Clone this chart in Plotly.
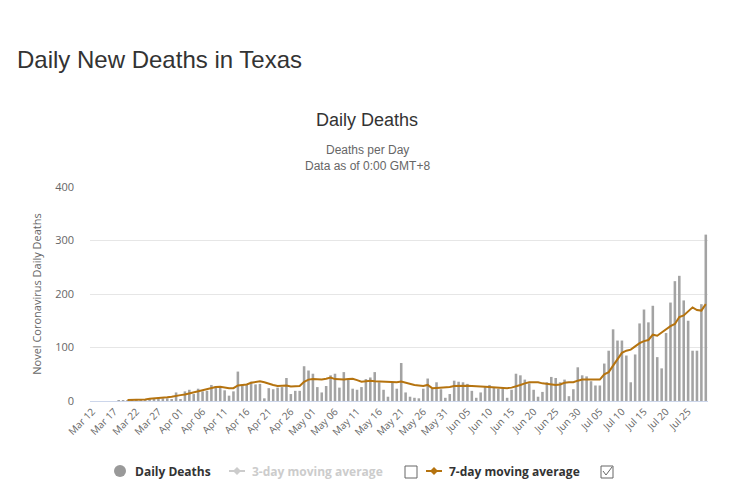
import pandas as pd
import plotly.graph_objects as go

# ---- data ----
start_date = "2020-03-12"
daily_deaths = [
    0, 0, 0, 0, 0, 0, 1, 1, 1, 1,
    1, 2, 2, 2, 3, 5, 5, 5, 2, 16,
    3, 18, 21, 13, 23, 18, 19, 30, 28, 27,
    20, 10, 18, 55, 30, 30, 36, 31, 32, 5,
    24, 22, 25, 26, 43, 13, 19, 19, 65, 57,
    51, 26, 16, 28, 48, 51, 25, 54, 40, 23,
    21, 26, 41, 44, 54, 35, 21, 8, 35, 23,
    71, 16, 8, 6, 5, 23, 42, 23, 35, 22,
    6, 13, 38, 36, 35, 32, 19, 6, 16, 26,
    30, 26, 23, 24, 6, 21, 51, 48, 40, 33,
    21, 8, 17, 35, 45, 43, 35, 40, 9, 22,
    63, 48, 46, 37, 29, 29, 70, 94, 134, 113,
    113, 85, 35, 87, 145, 171, 147, 178, 82, 61,
    127, 184, 224, 234, 188, 150, 94, 94, 181, 311,
]
moving_avg_7 = [
    None, None, None, None, None, None, None, None, 2, 2,
    2, 3, 3, 4, 4.5, 5, 6, 7, 8, 10,
    11, 12, 14, 16, 18, 19, 22, 24, 26, 26.5,
    25, 24, 24, 29, 30, 31, 34, 36, 37, 35,
    32, 30, 28, 28, 29, 27, 27, 28, 36, 40,
    41, 40, 40, 41.5, 44, 41, 40, 40, 41, 41.5,
    39, 36, 37, 38, 37, 36.5, 36.5, 36, 35, 35,
    36.5, 34, 32, 30, 29, 28, 30, 24, 24.5, 25,
    25.5, 26, 28, 28.5, 29, 28.5, 28, 28, 27, 26.5,
    26, 25, 24, 24, 24, 25, 27, 30, 33, 35,
    35, 35, 33, 32, 30, 30, 31, 34, 35, 35,
    38, 40, 40, 40, 39, 40, 50, 54, 66, 79,
    90, 94, 96, 102, 108, 112, 114, 124, 122, 128,
    134, 140, 144, 157, 160, 168, 175, 170, 169, 181,
]
y_ticks = [0, 100, 200, 300, 400]

dates = pd.date_range(start_date, periods=len(daily_deaths), freq="D")
tick_dates = dates[::5]

BAR = "#a3a3a3"
LINE = "#b5730f"
W, H = 733, 501
PL, PR, PT, PB = 90, 708, 187, 401


def px(x):
    return (x - PL) / (PR - PL)


def py(y):
    return (PB - y) / (PB - PT)


fig = go.Figure()
fig.add_trace(go.Bar(x=dates, y=daily_deaths, marker=dict(color=BAR, line=dict(width=0)),
                     name="Daily Deaths", showlegend=False))
fig.add_trace(go.Scatter(x=dates, y=moving_avg_7, mode="lines", line=dict(color=LINE, width=2),
                         name="7-day moving average", showlegend=False))

fig.update_layout(
    width=W, height=H,
    margin=dict(l=PL, r=W - PR, t=PT, b=H - PB),
    paper_bgcolor="white", plot_bgcolor="white",
    bargap=0.42,
    font=dict(family="Open Sans, DejaVu Sans, sans-serif", color="#666"),
    showlegend=False,
)
fig.update_xaxes(
    type="date",
    range=[dates[0] - pd.Timedelta(hours=12), dates[-1] + pd.Timedelta(hours=12)],
    tickvals=tick_dates, ticktext=[d.strftime("%b %d") for d in tick_dates],
    tickangle=-45, tickfont=dict(size=10, color="#666"),
    showgrid=False, showline=True, linecolor="#ccd6eb", linewidth=1,
    ticks="", zeroline=False,
)
fig.update_yaxes(
    range=[0, 400], tickvals=y_ticks, tickfont=dict(size=11, color="#666"),
    showgrid=True, gridcolor="#e6e6e6", zeroline=False, showline=False,
    ticks="", ticklabelstandoff=15,
    title=dict(text="Novel Coronavirus Daily Deaths", font=dict(size=11, color="#666"), standoff=11),
)

ann = []
ann.append(dict(text="Daily New Deaths in Texas", x=px(15), y=py(59), xanchor="left", yanchor="middle",
                font=dict(family="Liberation Sans, Arial, sans-serif", size=24, color="#333")))
ann.append(dict(text="Daily Deaths", x=px(367), y=py(120), xanchor="center", yanchor="middle",
                font=dict(family="Liberation Sans, Arial, sans-serif", size=18, color="#333")))
ann.append(dict(text="Deaths per Day", x=px(367), y=py(150), xanchor="center", yanchor="middle",
                font=dict(family="Liberation Sans, Arial, sans-serif", size=12, color="#666")))
ann.append(dict(text="Data as of 0:00 GMT+8", x=px(367), y=py(166), xanchor="center", yanchor="middle",
                font=dict(family="Liberation Sans, Arial, sans-serif", size=12, color="#666")))
leg_font = "Open Sans, DejaVu Sans, sans-serif"
ann.append(dict(text="<b>Daily Deaths</b>", x=px(133), y=py(471), xanchor="left", yanchor="middle",
                font=dict(family=leg_font, size=12, color="#333")))
ann.append(dict(text="<b>3-day moving average</b>", x=px(250), y=py(471), xanchor="left", yanchor="middle",
                font=dict(family=leg_font, size=12, color="#cccccc")))
ann.append(dict(text="<b>7-day moving average</b>", x=px(447), y=py(471), xanchor="left", yanchor="middle",
                font=dict(family=leg_font, size=12, color="#333")))
for a in ann:
    a.update(xref="paper", yref="paper", showarrow=False)
fig.update_layout(annotations=ann)


def diamond(cx, cy, r, color):
    path = f"M {px(cx)} {py(cy - r)} L {px(cx + r)} {py(cy)} L {px(cx)} {py(cy + r)} L {px(cx - r)} {py(cy)} Z"
    return dict(type="path", path=path, xref="paper", yref="paper", fillcolor=color, line=dict(width=0))


shapes = [
    dict(type="circle", xref="paper", yref="paper", x0=px(114), x1=px(126), y0=py(477), y1=py(465),
         fillcolor="#999999", line=dict(width=0)),
    dict(type="line", xref="paper", yref="paper", x0=px(229), x1=px(245), y0=py(471), y1=py(471),
         line=dict(color="#cccccc", width=2)),
    diamond(237, 471, 4, "#cccccc"),
    dict(type="rect", xref="paper", yref="paper", x0=px(405), x1=px(417), y0=py(478), y1=py(466),
         line=dict(color="#666", width=1), fillcolor="white"),
    dict(type="line", xref="paper", yref="paper", x0=px(426), x1=px(442), y0=py(471), y1=py(471),
         line=dict(color=LINE, width=2)),
    diamond(434, 471, 4, LINE),
    dict(type="rect", xref="paper", yref="paper", x0=px(601), x1=px(613), y0=py(478), y1=py(466),
         line=dict(color="#666", width=1), fillcolor="white"),
    dict(type="path", xref="paper", yref="paper",
         path=f"M {px(603)} {py(471)} L {px(606)} {py(475)} L {px(612)} {py(467)}",
         line=dict(color="#666", width=1)),
]
fig.update_layout(shapes=shapes)

fig.write_html("out.html", config={"displayModeBar": False},
               post_script="document.body.style.margin='0';document.body.style.overflow='hidden';")
